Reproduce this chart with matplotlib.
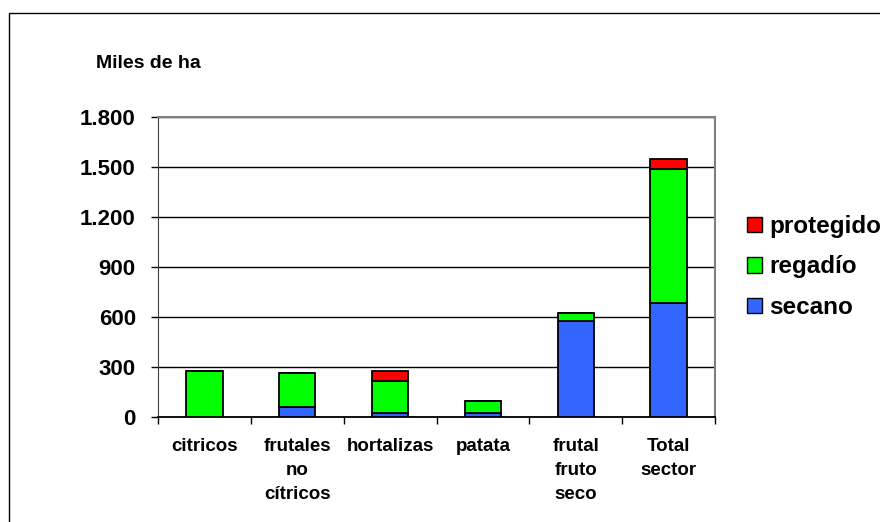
import numpy as np
import matplotlib.pyplot as plt
from matplotlib.patches import Rectangle, Patch

# Data (miles de ha)
categories = ['citricos', 'frutales\nno\ncítricos', 'hortalizas', 'patata',
              'frutal\nfruto\nseco', 'Total\nsector']
secano = [0, 60, 24, 24, 577, 683]
regadio = [276, 204, 192, 72, 46, 804]
protegido = [0, 0, 60, 0, 0, 62]
yticks = [0, 300, 600, 900, 1200, 1500, 1800]

plt.rcParams.update({'font.family': ['Liberation Sans', 'DejaVu Sans'],
                     'font.weight': 'bold'})
c_sec, c_reg, c_pro = '#3366FF', '#00FF00', '#FF0000'

fig = plt.figure(figsize=(8.8, 5.22), dpi=100)
ax = fig.add_axes([158 / 880, 1 - 417 / 522, 557 / 880, 300 / 522])

# outer chart border
fig.patches.append(Rectangle((9 / 880, -0.1), 1.2, 1 - 13 / 522 + 0.1,
                             transform=fig.transFigure, fill=False,
                             edgecolor='black', linewidth=1.0))

x = np.arange(len(categories))
w = 0.39
sec = np.array(secano)
reg = np.array(regadio)
pro = np.array(protegido)
kw = dict(width=w, edgecolor='black', linewidth=1.3, zorder=3)
ax.bar(x, sec, color=c_sec, **kw)
ax.bar(x, reg, bottom=sec, color=c_reg, **kw)
ax.bar(x, pro, bottom=sec + reg, color=c_pro, **kw)

ax.set_xlim(-0.5, len(categories) - 0.5)
ax.set_ylim(0, 1800)
ax.set_yticks(yticks)
ax.set_yticklabels([f'{v:,}'.replace(',', '.') for v in yticks],
                   fontsize=16, fontweight='bold')
ax.yaxis.grid(True, color='black', linewidth=1.0, zorder=0)
ax.tick_params(axis='y', direction='out', length=5, width=1, pad=11)

ax.set_xticks(x)
ax.set_xticklabels(categories, fontsize=13.5, fontweight='bold', linespacing=1.56,
                   va='top')
ax.set_xticks(np.arange(-0.5, len(categories)), minor=True)
ax.tick_params(axis='x', which='major', length=0, pad=15)
ax.tick_params(axis='x', which='minor', direction='out', length=5, width=1)

for s in ['top', 'right']:
    ax.spines[s].set_color('#808080')
    ax.spines[s].set_linewidth(1.5)
ax.spines['left'].set_color('#404040')
ax.spines['bottom'].set_color('black')
ax.spines['bottom'].set_linewidth(1.3)

fig.text(96 / 880, 1 - 63 / 522, 'Miles de ha', fontsize=14,
         fontweight='bold', va='center', ha='left')

handles = [Patch(facecolor=c_pro, edgecolor='black', label='protegido'),
           Patch(facecolor=c_reg, edgecolor='black', label='regadío'),
           Patch(facecolor=c_sec, edgecolor='black', label='secano')]
fig.legend(handles=handles, loc='center left',
           bbox_to_anchor=(747 / 880, 1 - 267 / 522), frameon=False,
           prop={'size': 17.5, 'weight': 'bold'}, handlelength=0.62,
           handleheight=0.62, handletextpad=0.3, labelspacing=0.72,
           borderaxespad=0, borderpad=0)

fig.savefig('out.png', dpi=100)
